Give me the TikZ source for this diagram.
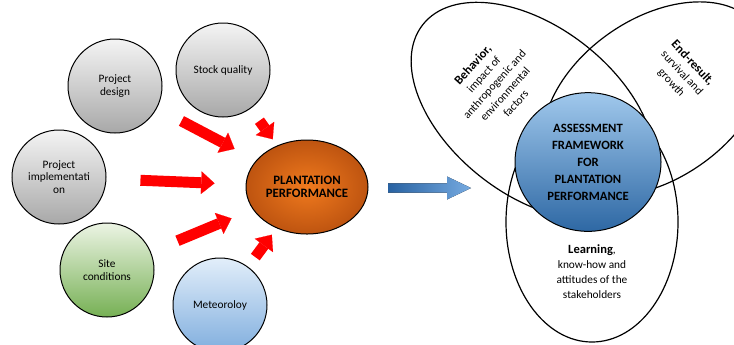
\documentclass[tikz,border=0pt]{standalone}
\usepackage{fontspec}
\setmainfont{Carlito}
\usetikzlibrary{arrows.meta,shapes.geometric}

\definecolor{greytop}{RGB}{244,244,244}
\definecolor{greybot}{RGB}{168,168,168}
\definecolor{greentop}{RGB}{236,244,228}
\definecolor{greenbot}{RGB}{118,176,84}
\definecolor{bluetop}{RGB}{226,238,250}
\definecolor{bluebot}{RGB}{128,174,222}
\definecolor{orangein}{RGB}{240,122,30}
\definecolor{orangeout}{RGB}{190,84,16}
\definecolor{fwtop}{RGB}{160,200,236}
\definecolor{fwbot}{RGB}{46,104,164}
\definecolor{flowdark}{RGB}{40,98,162}
\definecolor{flowlight}{RGB}{118,170,224}
\newcommand{\venntitlefont}{\fontsize{9.4}{10.8}\selectfont\bfseries}

\begin{document}
\begin{tikzpicture}[x=0.75pt,y=0.75pt,yscale=-1,xscale=1,
  factor/.style={circle, draw=black, line width=0.75pt, minimum size=70.5pt, inner sep=0pt, align=center, font=\fontsize{8.5}{9.4}\selectfont},
  greyfactor/.style={factor, top color=greytop, bottom color=greybot},
  redarrow/.style={draw=red, line width=8.2pt, -{Triangle[length=10pt,width=17pt,line width=0.1pt]}},
  venn/.style={draw=black, line width=0.9pt},
  venntext/.style={align=center, inner sep=0pt, font=\fontsize{8.6}{10.8}\selectfont}]
\useasboundingbox (0,0) rectangle (734,344);

%Shape: Circle [id:design]
\node [greyfactor] (design) at (115,86) {Project\\design};
%Shape: Circle [id:stock]
\node [greyfactor] (stock) at (223,70) {Stock quality};
%Shape: Circle [id:implementation]
\node [greyfactor] (implementation) at (59,177) {Project\\implementati\\on};
%Shape: Circle [id:site]
\node [factor, top color=greentop, bottom color=greenbot] (site) at (107,270) {Site\\conditions};
%Shape: Circle [id:meteo]
\node [factor, top color=bluetop, bottom color=bluebot] (meteo) at (220,305) {Meteoroloy};
%Shape: Ellipse [id:performance]
\node [ellipse, draw=black, line width=0.75pt, minimum width=91.5pt, minimum height=70.5pt, inner sep=0pt, inner color=orangein, outer color=orangeout, align=center, font=\fontsize{9.6}{10.2}\selectfont\bfseries] (performance) at (307,187) {PLANTATION\\PERFORMANCE};

%Block Arrows
\draw [redarrow, shorten <=20.7pt, shorten >=18.3pt] (design) -- (performance);
\draw [redarrow, shorten <=11.2pt, shorten >=5.7pt] (stock) -- (performance);
\draw [redarrow, shorten <=25.5pt, shorten >=23.3pt] (implementation) -- (performance);
\draw [redarrow, shorten <=21.6pt, shorten >=17.3pt] (site) -- (performance);
\draw [redarrow, shorten <=9pt, shorten >=6pt] (meteo) -- (performance);

%Shape: Right Arrow [id:flow]
\fill [left color=flowdark, right color=flowlight] (388,183.3) -- (447,183.3) -- (447,176.5) -- (471,188) -- (447,199.5) -- (447,192.7) -- (388,192.7) -- cycle ;

%Shape: Ellipse [id:behavior]
\draw [venn, rotate around={38:(533,111)}] (533,111) ellipse [x radius=140, y radius=84];
%Shape: Ellipse [id:endresult]
\draw [venn, rotate around={-35:(655,99)}] (655,99) ellipse [x radius=125, y radius=80];
%Shape: Ellipse [id:learning]
\draw [venn] (592,222) ellipse [x radius=86, y radius=120];

%Shape: Circle [id:framework]
\node [ellipse, draw=black, line width=0.75pt, minimum width=109.5pt, minimum height=104pt, inner sep=0pt, top color=fwtop, bottom color=fwbot, align=center, font=\fontsize{9.5}{12.75}\selectfont\bfseries] (framework) at (588,162) {ASSESSMENT\\FRAMEWORK\\FOR\\PLANTATION\\PERFORMANCE};

% Text Node
\node [venntext, rotate=48] (behaviortext) at (494,84) {{\venntitlefont Behavior,}\\impact of\\anthropogenic and\\environmental\\factors};
% Text Node
\node [venntext, rotate=-47] (endresulttext) at (682,73) {{\venntitlefont End-result,}\\survival and\\growth};
% Text Node
\node [venntext, font=\fontsize{8.5}{11.25}\selectfont] (learningtext) at (592,272) {{\venntitlefont Learning},\\know-how and\\attitudes of the\\stakeholders};

\end{tikzpicture}
\end{document}
